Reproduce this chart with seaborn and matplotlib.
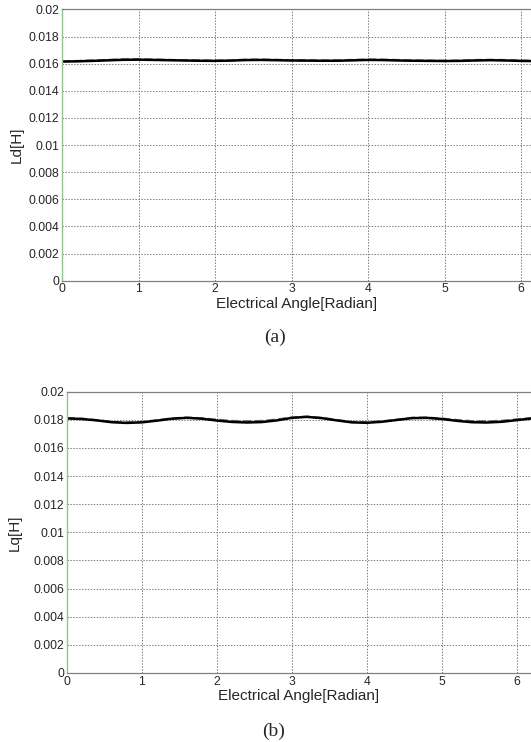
import numpy as np
import pandas as pd
import matplotlib
matplotlib.use("Agg")
import matplotlib.pyplot as plt
import seaborn as sns

# electrical angle samples [rad]
angle = [0.0, 0.2, 0.4, 0.6, 0.8, 1.0, 1.2, 1.4, 1.6, 1.8, 2.0, 2.2, 2.4, 2.6, 2.8, 3.0,
         3.2, 3.4, 3.6, 3.8, 4.0, 4.2, 4.4, 4.6, 4.8, 5.0, 5.2, 5.4, 5.6, 5.8, 6.0, 6.2]

# d-axis inductance [H], two overlapping traces
ld_main = [0.01616, 0.01618, 0.01621, 0.01625, 0.01629, 0.01630, 0.01628, 0.01626,
           0.01624, 0.01622, 0.01621, 0.01623, 0.01627, 0.01628, 0.01626, 0.01624,
           0.01623, 0.01622, 0.01622, 0.01625, 0.01628, 0.01627, 0.01624, 0.01622,
           0.01621, 0.01620, 0.01621, 0.01624, 0.01626, 0.01624, 0.01621, 0.01619]
ld_alt = [0.01618, 0.01620, 0.01624, 0.01628, 0.01632, 0.01633, 0.01631, 0.01628,
          0.01626, 0.01624, 0.01623, 0.01625, 0.01630, 0.01631, 0.01629, 0.01626,
          0.01625, 0.01624, 0.01625, 0.01628, 0.01631, 0.01630, 0.01627, 0.01624,
          0.01623, 0.01622, 0.01623, 0.01627, 0.01629, 0.01627, 0.01623, 0.01621]

# q-axis inductance [H], two overlapping traces
lq_main = [0.01810, 0.01806, 0.01796, 0.01783, 0.01778, 0.01782, 0.01794, 0.01808,
           0.01814, 0.01808, 0.01795, 0.01785, 0.01781, 0.01784, 0.01796, 0.01814,
           0.01821, 0.01812, 0.01796, 0.01782, 0.01779, 0.01786, 0.01799, 0.01812,
           0.01814, 0.01806, 0.01793, 0.01783, 0.01781, 0.01786, 0.01798, 0.01810]
lq_alt = [0.01812, 0.01808, 0.01798, 0.01786, 0.01781, 0.01785, 0.01797, 0.01810,
          0.01816, 0.01811, 0.01801, 0.01792, 0.01790, 0.01792, 0.01802, 0.01816,
          0.01823, 0.01814, 0.01799, 0.01785, 0.01782, 0.01789, 0.01801, 0.01814,
          0.01816, 0.01809, 0.01799, 0.01791, 0.01789, 0.01793, 0.01803, 0.01812]

y_ticks = [0, 0.002, 0.004, 0.006, 0.008, 0.01, 0.012, 0.014, 0.016, 0.018, 0.02]
y_ticklabels = ["0", "0.002", "0.004", "0.006", "0.008", "0.01", "0.012", "0.014",
                "0.016", "0.018", "0.02"]
x_ticks = [0, 1, 2, 3, 4, 5, 6]

sns.set_style("white")
plt.rcParams["font.family"] = ["Liberation Sans", "DejaVu Sans"]

fig = plt.figure(figsize=(5.31, 7.42), dpi=100)
ax_a = fig.add_axes([0.1168, 0.6217, 0.8832, 0.3655])
ax_b = fig.add_axes([0.1258, 0.0930, 0.8742, 0.3791])


def style_axes(ax, main, alt, ylabel, xmax, label_x):
    df = pd.DataFrame({"angle": angle + angle,
                       "L": main + alt,
                       "trace": ["main"] * len(angle) + ["alt"] * len(angle)})
    sns.lineplot(data=df[df.trace == "alt"], x="angle", y="L", ax=ax,
                 color="#6e6e6e", linewidth=1.6, linestyle="--")
    sns.lineplot(data=df[df.trace == "main"], x="angle", y="L", ax=ax,
                 color="black", linewidth=1.8)
    ax.set_xlim(0, xmax)
    ax.set_ylim(0, 0.02)
    ax.set_xticks(x_ticks)
    ax.set_xticklabels([str(t) for t in x_ticks])
    ax.set_yticks(y_ticks)
    ax.set_yticklabels(y_ticklabels)
    ax.tick_params(axis="both", labelsize=8.7, direction="in", length=3,
                   color="#808080", pad=2)
    ax.grid(True, color="#808080", linestyle=(0, (1.5, 1.5)), linewidth=0.7)
    for side in ["top", "bottom"]:
        ax.spines[side].set_color("#808080")
        ax.spines[side].set_linewidth(0.9)
    ax.spines["right"].set_visible(False)
    ax.spines["left"].set_color("#8cc78c")
    ax.spines["left"].set_linewidth(1.0)
    ax.set_xlabel("Electrical Angle[Radian]", fontsize=11, labelpad=1)
    ax.set_ylabel(ylabel, fontsize=11)
    ax.yaxis.set_label_coords(label_x, 0.5)


style_axes(ax_a, ld_main, ld_alt, "Ld[H]", 6.13, -0.081)
style_axes(ax_b, lq_main, lq_alt, "Lq[H]", 6.19, -0.097)

fig.text(0.517, 0.5458, "(a)", ha="center", va="center", fontsize=14,
         family=["Liberation Serif", "DejaVu Serif"])
fig.text(0.516, 0.0148, "(b)", ha="center", va="center", fontsize=14,
         family=["Liberation Serif", "DejaVu Serif"])

fig.savefig("out.png", dpi=100)
